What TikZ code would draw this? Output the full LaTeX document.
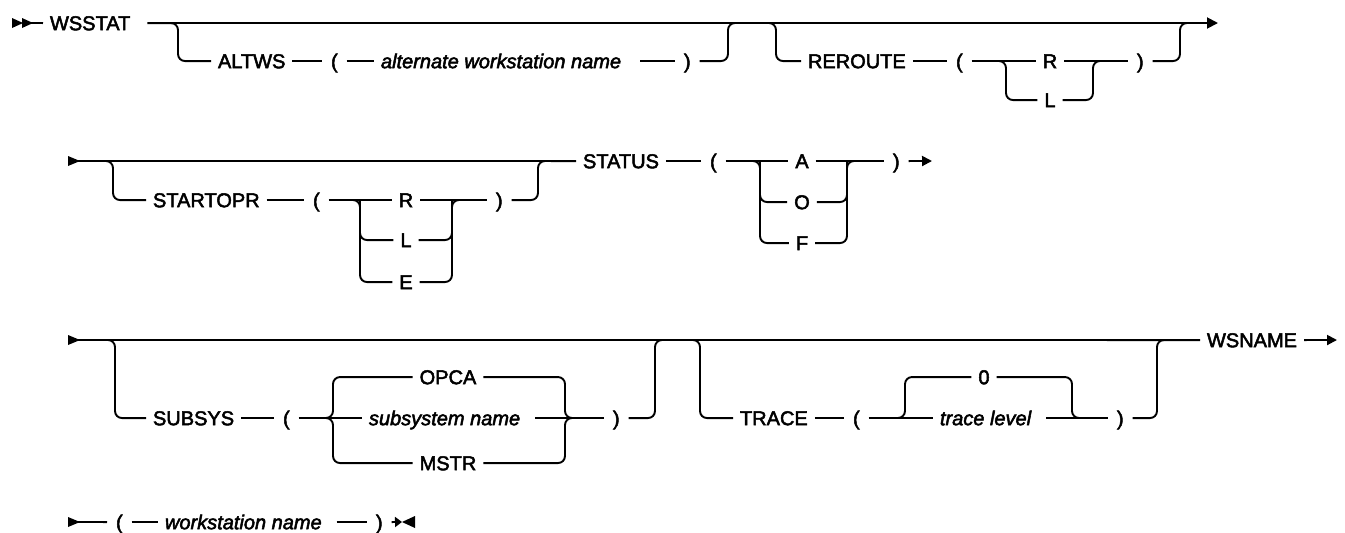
\documentclass[tikz,border=0pt]{standalone}
\usepackage{fontspec}
\setmainfont{Liberation Sans}[FakeBold=2.5]
\newfontfamily\rrfont{Liberation Sans}[FakeBold=2.5]
\newfontfamily\rrital{Liberation Sans Italic}[FakeBold=2.5]
\usetikzlibrary{arrows.meta}
\begin{document}
\begin{tikzpicture}[x=1pt,y=-1pt,
  every node/.style={font=\rrfont\fontsize{20}{24}\selectfont, inner sep=0pt, text height=14.3pt, text depth=0pt},
  kw/.style={anchor=text, outer xsep=7pt},
  ck/.style={anchor=base, outer xsep=7pt},
  va/.style={anchor=text, outer xsep=7pt, font=\rrital\fontsize{20}{24}\selectfont},
  pa/.style={anchor=text, outer xsep=9pt},
  ln/.style={line width=1.9pt},
  rr/.style={line width=1.9pt, rounded corners=7pt},
  tipa/.style={-{Triangle[length=11pt,width=11pt]}},
  tipb/.style={-{Triangle[length=10pt,width=10pt]}},
  tipc/.style={-{Triangle[length=7pt,width=10pt]}},
]
\useasboundingbox (0,0) rectangle (1345,533);

% ---------------- row 1 ----------------
\fill (12,18) -- (23,23) -- (12,28) -- cycle;
\fill (22,18) -- (33,23) -- (22,28) -- cycle;
\coordinate (st1) at (22,23);
\node[kw] (wsstat) at (50,30.2) {WSSTAT};
\draw[ln] (st1) -- (wsstat.west);
\coordinate (end1) at (1218,23);
\draw[ln,tipa] ([xshift=10pt]wsstat.east) -- (end1);

% ALTWS
\node[kw] (altws) at (218,68.2) {ALTWS};
\node[pa] (lp1) at (331,68.2) {(};
\node[va] (alt) at (381,68.2) {alternate workstation name};
\node[pa] (rp1) at (684,68.2) {)};
\coordinate (a1) at (178,23);
\coordinate (a2) at (728,23);
\draw[rr] ([xshift=-12pt]a1) -- (a1) -- (a1 |- altws.west) -- (altws.west);
\draw[ln] (altws.east) -- (lp1.west);
\draw[ln] (lp1.east) -- (alt.west);
\draw[ln] ([xshift=12pt]alt.east) -- (rp1.west);
\draw[rr] (rp1.east) -- (a2 |- rp1.east) -- (a2) -- ([xshift=12pt]a2);

% REROUTE
\node[kw] (rer) at (808,68.2) {REROUTE};
\node[pa] (lp2) at (956,68.2) {(};
\node[ck] (r1) at (1050,68.2) {R};
\node[ck] (l1) at (1050,107.2) {L};
\node[pa] (rp2) at (1137,68.2) {)};
\coordinate (b1) at (776,23);
\coordinate (b2) at (1180,23);
\coordinate (c1) at (1006,61);
\coordinate (c2) at (1093,61);
\draw[rr] ([xshift=-12pt]b1) -- (b1) -- (b1 |- rer.west) -- (rer.west);
\draw[ln] (rer.east) -- (lp2.west);
\draw[ln] (lp2.east) -- (r1.west);
\draw[rr] ([xshift=-10pt]c1) -- (c1) -- (c1 |- l1.west) -- (l1.west);
\draw[ln] (r1.east) -- (rp2.west);
\draw[rr] (l1.east) -- (c2 |- l1.east) -- (c2) -- ([xshift=10pt]c2);
\draw[rr] (rp2.east) -- (b2 |- rp2.east) -- (b2) -- ([xshift=12pt]b2);

% ---------------- row 2 ----------------
\fill (68,156) -- (80,161) -- (68,166) -- cycle;
\coordinate (st2) at (74,161);
\node[kw] (status) at (583,168.2) {STATUS};
\draw[ln] (st2) -- (status.west);

% STARTOPR
\node[kw] (sto) at (153,207.2) {STARTOPR};
\node[pa] (lp3) at (313,207.2) {(};
\node[ck] (r2) at (406,207.2) {R};
\node[ck] (l2) at (406,247.2) {L};
\node[ck] (e2) at (406,289.2) {E};
\node[pa] (rp3) at (496,207.2) {)};
\coordinate (d1) at (113,161);
\coordinate (d2) at (538,161);
\coordinate (f1) at (360,200);
\coordinate (f2) at (452,200);
\draw[rr] ([xshift=-12pt]d1) -- (d1) -- (d1 |- sto.west) -- (sto.west);
\draw[ln] (sto.east) -- (lp3.west);
\draw[ln] (lp3.east) -- (r2.west);
\draw[rr] ([xshift=-10pt]f1) -- (f1) -- (f1 |- e2.west) -- (e2.west);
\draw[rr] (f1) -- (f1 |- l2.west) -- (l2.west);
\draw[ln] (r2.east) -- (rp3.west);
\draw[rr] (l2.east) -- (f2 |- l2.east) -- (f2);
\draw[rr] (e2.east) -- (f2 |- e2.east) -- (f2) -- ([xshift=10pt]f2);
\draw[rr] (rp3.east) -- (d2 |- rp3.east) -- (d2) -- ([xshift=12pt]d2);

% STATUS
\node[pa] (lp4) at (710,168.2) {(};
\node[ck] (ra) at (802,168.2) {A};
\node[ck] (ro) at (802,209.2) {O};
\node[ck] (rf) at (802,250.2) {F};
\node[pa] (rp4) at (893,168.2) {)};
\coordinate (g1) at (760,161);
\coordinate (g2) at (847,161);
\draw[ln] (status.east) -- (lp4.west);
\draw[ln] (lp4.east) -- (ra.west);
\draw[rr] ([xshift=-10pt]g1) -- (g1) -- (g1 |- rf.west) -- (rf.west);
\draw[rr] (g1) -- (g1 |- ro.west) -- (ro.west);
\draw[ln] (ra.east) -- (rp4.west);
\draw[rr] (ro.east) -- (g2 |- ro.east) -- (g2);
\draw[rr] (rf.east) -- (g2 |- rf.east) -- (g2) -- ([xshift=10pt]g2);
\coordinate (end2) at (932,161);
\draw[ln,tipb] (rp4.east) -- (end2);

% ---------------- row 3 ----------------
\fill (68,335) -- (80,340) -- (68,345) -- cycle;
\coordinate (st3) at (74,340);
\node[kw] (wsname) at (1207,347.2) {WSNAME};
\draw[ln] (st3) -- (wsname.west);
\coordinate (end3) at (1337,340);
\draw[ln,tipb] (wsname.east) -- (end3);

% SUBSYS
\node[kw] (subsys) at (153,425.2) {SUBSYS};
\node[pa] (lp5) at (283,425.2) {(};
\node[ck] (opca) at (448,384.2) {OPCA};
\node[va] (subn) at (369,425.2) {subsystem name};
\node[ck] (mstr) at (448,470.2) {MSTR};
\node[pa] (rp5) at (613,425.2) {)};
\coordinate (h1) at (115,340);
\coordinate (h2) at (655,340);
\coordinate (k1) at (333,418);
\coordinate (k2) at (565,418);
\draw[rr] ([xshift=-12pt]h1) -- (h1) -- (h1 |- subsys.west) -- (subsys.west);
\draw[ln] (subsys.east) -- (lp5.west);
\draw[ln] (lp5.east) -- (subn.west);
\draw[rr] ([xshift=-8pt]k1) -- (k1) -- (k1 |- opca.west) -- (opca.west);
\draw[rr] ([xshift=-8pt]k1) -- (k1) -- (k1 |- mstr.west) -- (mstr.west);
\draw[rr] (opca.east) -- (k2 |- opca.east) -- (k2) -- ([xshift=8pt]k2);
\draw[rr] (mstr.east) -- (k2 |- mstr.east) -- (k2) -- ([xshift=8pt]k2);
\draw[ln] ([xshift=8pt]subn.east) -- (rp5.west);
\draw[rr] (rp5.east) -- (h2 |- rp5.east) -- (h2) -- ([xshift=12pt]h2);

% TRACE
\node[kw] (trace) at (740,425.2) {TRACE};
\node[pa] (lp6) at (853,425.2) {(};
\node[ck] (zero) at (984,384.2) {0};
\node[va] (tl) at (940,425.2) {trace level};
\node[pa] (rp6) at (1117,425.2) {)};
\coordinate (m1) at (700,340);
\coordinate (m2) at (1157,340);
\coordinate (n1) at (905,418);
\coordinate (n2) at (1072,418);
\draw[rr] ([xshift=-12pt]m1) -- (m1) -- (m1 |- trace.west) -- (trace.west);
\draw[ln] (trace.east) -- (lp6.west);
\draw[ln] (lp6.east) -- (tl.west);
\draw[rr] ([xshift=-10pt]n1) -- (n1) -- (n1 |- zero.west) -- (zero.west);
\draw[rr] (zero.east) -- (n2 |- zero.east) -- (n2) -- ([xshift=10pt]n2);
\draw[ln] ([xshift=8pt]tl.east) -- (rp6.west);
\draw[rr] (rp6.east) -- (m2 |- rp6.east) -- (m2) -- ([xshift=12pt]m2);

% ---------------- row 4 ----------------
\fill (68,517) -- (80,522) -- (68,527) -- cycle;
\coordinate (st4) at (74,522);
\node[pa] (lp7) at (116,529.2) {(};
\node[va] (wsn) at (165,529.2) {workstation name};
\node[pa] (rp7) at (376,529.2) {)};
\coordinate (end4) at (402,522);
\draw[ln] (st4) -- (lp7.west);
\draw[ln] (lp7.east) -- (wsn.west);
\draw[ln] ([xshift=8pt]wsn.east) -- (rp7.west);
\draw[ln,tipc] (rp7.east) -- (end4);
\fill (415,516) -- (402,522) -- (415,528) -- cycle;
\end{tikzpicture}
\end{document}
